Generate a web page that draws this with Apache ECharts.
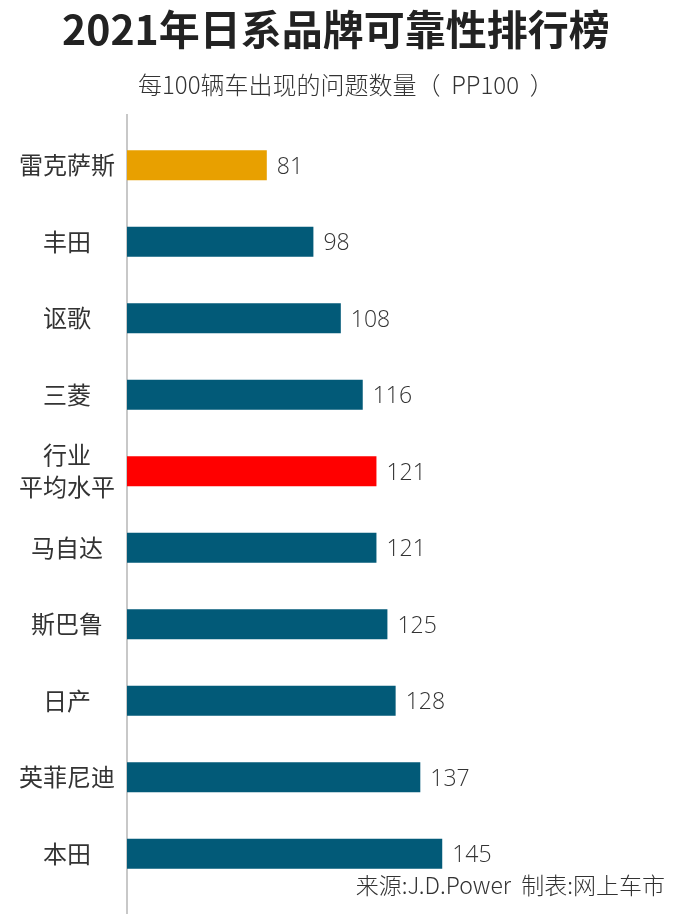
<!DOCTYPE html>
<html><head><meta charset="utf-8">
<script src="https://cdn.jsdelivr.net/npm/echarts@6/dist/echarts.min.js"></script>
<style>html,body{margin:0;padding:0;background:#fff}#c{width:680px;height:914px}</style>
</head><body><div id="c"></div>
<script>
const categories = ['雷克萨斯','丰田','讴歌','三菱','行业\n平均水平','马自达','斯巴鲁','日产','英菲尼迪','本田'];
const values = [81,98,108,116,121,121,125,128,137,145];
const barColors = ['#E8A000','#025A78','#025A78','#025A78','#FF0000','#025A78','#025A78','#025A78','#025A78','#025A78'];
const titleText = '2021年日系品牌可靠性排行榜';
const subtitleText = '每100辆车出现的问题数量（  PP100  ）';
const sourceText = '来源:J.D.Power  制表:网上车市';

const chart = echarts.init(document.getElementById('c'), null, {renderer:'canvas'});
const CJK = '"Noto Sans CJK SC", "Noto Sans", sans-serif';
chart.setOption({
  backgroundColor:'#fff',
  animation:false,
  title:[
    {text:titleText,left:57,top:4,textStyle:{fontFamily:CJK,fontWeight:'bold',fontSize:41,color:'#222'}},
    {text:subtitleText,left:133,top:68,textStyle:{fontFamily:CJK,fontWeight:300,fontSize:24,color:'#333'}}
  ],
  grid:{left:127,top:127,width:466,height:765,containLabel:false},
  xAxis:{type:'value',min:30,max:200,show:false},
  yAxis:{type:'category',data:categories,inverse:true,
    axisLine:{show:false},axisTick:{show:false},splitLine:{show:false},
    axisLabel:{margin:60,align:'center',fontFamily:CJK,fontSize:24,color:'#333',lineHeight:32}},
  series:[{type:'bar',barWidth:30,
    data:values.map((v,i)=>({value:v,itemStyle:{color:barColors[i]}})),
    label:{show:true,position:'right',distance:10,offset:[0,2],fontFamily:'"Open Sans", sans-serif',fontWeight:300,fontSize:23,color:'#333'}}],
  graphic:[
    {type:'line',shape:{x1:127,y1:114,x2:127,y2:914},style:{stroke:'#c8c8c8',lineWidth:2}},
    {type:'text',right:15,top:874,style:{text:sourceText,fontFamily:CJK,fontWeight:300,fontSize:23,fill:'#333'}}
  ]
});
</script></body></html>
